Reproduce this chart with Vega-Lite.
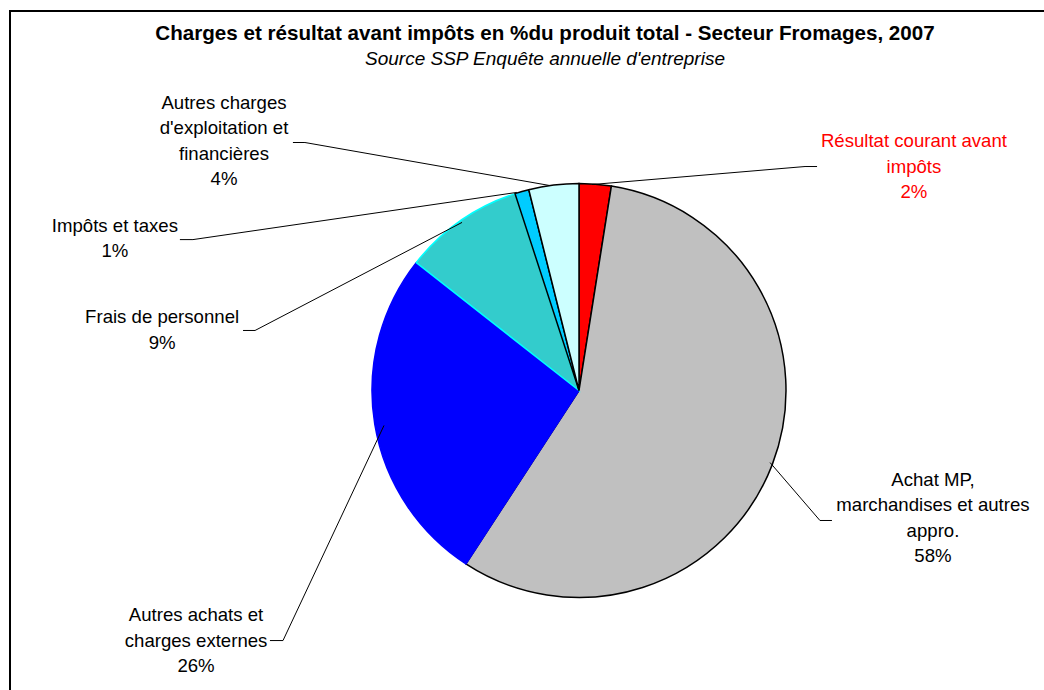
{
  "$schema": "https://vega.github.io/schema/vega-lite/v6.json",
  "autosize": {"type": "none"},
  "padding": {"left": 10, "top": 11, "right": 0, "bottom": 0},
  "width": 1138,
  "height": 759,
  "background": "white",
  "view": {"stroke": "black", "strokeWidth": 2},
  "config": {"font": "Liberation Sans"},
  "title": {
    "text": "Charges et résultat avant impôts en %du produit total - Secteur Fromages, 2007",
    "subtitle": "Source SSP Enquête annuelle d'entreprise",
    "anchor": "middle",
    "frame": "group",
    "orient": "top",
    "offset": -57.5,
    "dx": -34,
    "font": "Liberation Sans",
    "fontSize": 20.6,
    "fontWeight": "bold",
    "color": "black",
    "subtitleFont": "Liberation Sans",
    "subtitleFontSize": 19,
    "subtitleFontStyle": "italic",
    "subtitleColor": "black",
    "subtitlePadding": 4.5
  },
  "datasets": {
    "slices": [
      {"idx": 1, "category": "Résultat courant avant impôts", "value": 2.5},
      {"idx": 2, "category": "Achat MP, marchandises et autres appro.", "value": 56.7},
      {"idx": 3, "category": "Autres achats et charges externes", "value": 26.4},
      {"idx": 4, "category": "Frais de personnel", "value": 9.4},
      {"idx": 5, "category": "Impôts et taxes", "value": 1.1},
      {"idx": 6, "category": "Autres charges d'exploitation et financières", "value": 3.9}
    ],
    "labels": [
      {"category": "Résultat courant avant impôts", "label": "Résultat courant avant\nimpôts\n2%", "x": 1.618, "y": 1.205},
      {"category": "Achat MP, marchandises et autres appro.", "label": "Achat MP,\nmarchandises et autres\nappro.\n58%", "x": 1.710, "y": -0.432},
      {"category": "Autres achats et charges externes", "label": "Autres achats et\ncharges externes\n26%", "x": -1.850, "y": -1.085},
      {"category": "Frais de personnel", "label": "Frais de personnel\n9%", "x": -2.014, "y": 0.355},
      {"category": "Impôts et taxes", "label": "Impôts et taxes\n1%", "x": -2.242, "y": 0.795},
      {"category": "Autres charges d'exploitation et financières", "label": "Autres charges\nd'exploitation et\nfinancières\n4%", "x": -1.715, "y": 1.389}
    ],
    "leaders": [
      {"category": "Autres charges", "seq": 1, "x": -1.382, "y": 1.198},
      {"category": "Autres charges", "seq": 2, "x": -1.324, "y": 1.198},
      {"category": "Autres charges", "seq": 3, "x": -0.140, "y": 0.990},
      {"category": "Impôts", "seq": 1, "x": -1.928, "y": 0.729},
      {"category": "Impôts", "seq": 2, "x": -1.865, "y": 0.729},
      {"category": "Impôts", "seq": 3, "x": -0.300, "y": 0.957},
      {"category": "Frais", "seq": 1, "x": -1.623, "y": 0.290},
      {"category": "Frais", "seq": 2, "x": -1.565, "y": 0.290},
      {"category": "Frais", "seq": 3, "x": -0.565, "y": 0.812},
      {"category": "Autres achats", "seq": 1, "x": -1.493, "y": -1.208},
      {"category": "Autres achats", "seq": 2, "x": -1.430, "y": -1.208},
      {"category": "Autres achats", "seq": 3, "x": -0.942, "y": -0.169},
      {"category": "Achat MP", "seq": 1, "x": 1.222, "y": -0.628},
      {"category": "Achat MP", "seq": 2, "x": 1.164, "y": -0.628},
      {"category": "Achat MP", "seq": 3, "x": 0.923, "y": -0.348},
      {"category": "Résultat", "seq": 1, "x": 1.150, "y": 1.082},
      {"category": "Résultat", "seq": 2, "x": 1.092, "y": 1.082},
      {"category": "Résultat", "seq": 3, "x": 0.063, "y": 0.995}
    ]
  },
  "layer": [
    {
      "data": {"name": "slices"},
      "mark": {"type": "arc", "outerRadius": 207, "strokeWidth": 1.5},
      "encoding": {
        "theta": {"field": "value", "type": "quantitative", "stack": true},
        "order": {"field": "idx", "type": "quantitative"},
        "fill": {
          "field": "category", "type": "nominal", "legend": null,
          "scale": {
            "domain": ["Résultat courant avant impôts", "Achat MP, marchandises et autres appro.", "Autres achats et charges externes", "Frais de personnel", "Impôts et taxes", "Autres charges d'exploitation et financières"],
            "range": ["#FF0000", "#C0C0C0", "#0000FF", "#33CCCC", "#00CCFF", "#CCFFFF"]
          }
        },
        "stroke": {
          "field": "category", "type": "nominal", "legend": null,
          "scale": {
            "domain": ["Résultat courant avant impôts", "Achat MP, marchandises et autres appro.", "Autres achats et charges externes", "Frais de personnel", "Impôts et taxes", "Autres charges d'exploitation et financières"],
            "range": ["#000000", "#000000", "#0000FF", "#00FFFF", "#000000", "#000000"]
          }
        }
      }
    },
    {
      "data": {"name": "leaders"},
      "mark": {"type": "line", "color": "black", "strokeWidth": 1},
      "encoding": {
        "x": {"field": "x", "type": "quantitative", "axis": null, "scale": {"domain": [-2.7488, 2.7488], "nice": false, "zero": false}},
        "y": {"field": "y", "type": "quantitative", "axis": null, "scale": {"domain": [-1.8333, 1.8333], "nice": false, "zero": false}},
        "detail": {"field": "category", "type": "nominal"},
        "order": {"field": "seq", "type": "quantitative"}
      }
    },
    {
      "data": {"name": "labels"},
      "mark": {"type": "text", "lineBreak": "\n", "lineHeight": 25.5, "fontSize": 18.6, "align": "center", "baseline": "middle", "font": "Liberation Sans"},
      "encoding": {
        "x": {"field": "x", "type": "quantitative", "axis": null, "scale": {"domain": [-2.7488, 2.7488], "nice": false, "zero": false}},
        "y": {"field": "y", "type": "quantitative", "axis": null, "scale": {"domain": [-1.8333, 1.8333], "nice": false, "zero": false}},
        "text": {"field": "label", "type": "nominal"},
        "color": {"condition": {"test": "datum.category === 'Résultat courant avant impôts'", "value": "#FF0000"}, "value": "black"}
      }
    }
  ]
}
